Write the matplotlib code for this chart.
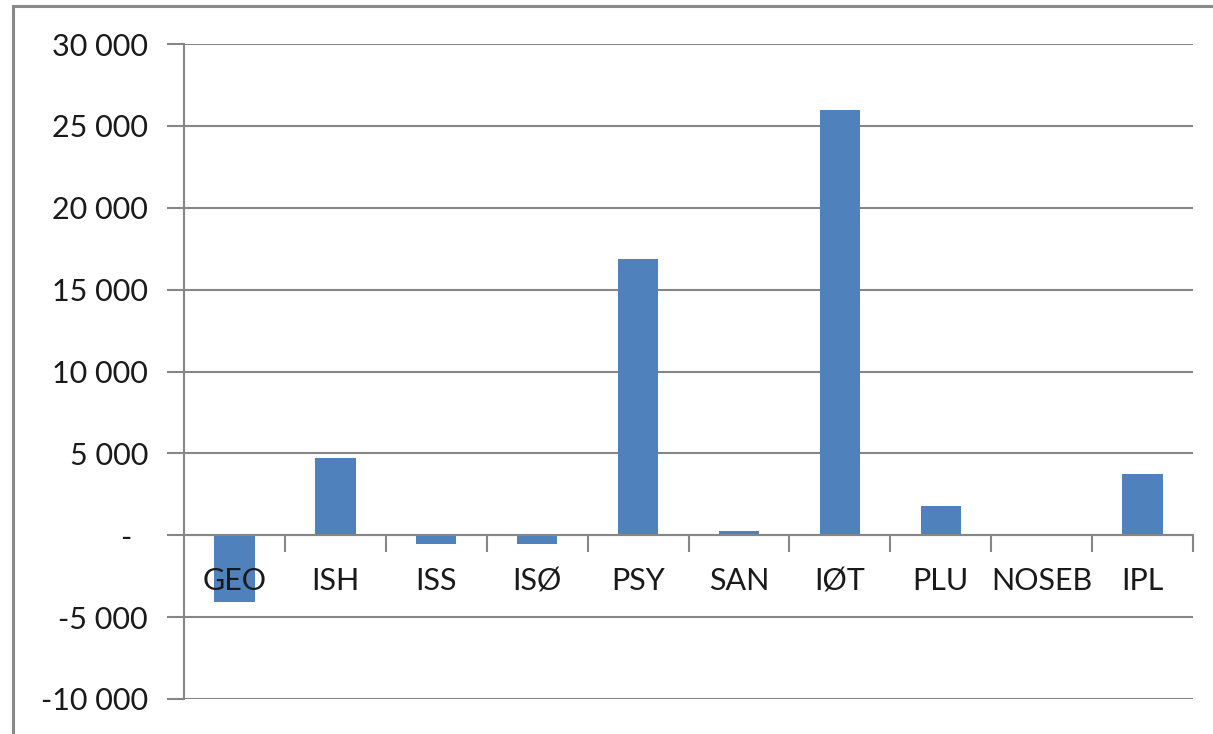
import matplotlib
matplotlib.use("Agg")
import matplotlib.pyplot as plt
from matplotlib.patches import Rectangle
from matplotlib.ticker import FuncFormatter, FixedLocator

categories = ["GEO", "ISH", "ISS", "ISØ", "PSY", "SAN", "IØT", "PLU", "NOSEB", "IPL"]
values = [-4100, 4700, -550, -550, 16900, 250, 25950, 1800, 0, 3750]
y_ticks = [-10000, -5000, 0, 5000, 10000, 15000, 20000, 25000, 30000]

plt.rcParams['font.family'] = ['Lato', 'DejaVu Sans']
grey = '#868686'
W, H = 1213, 734

fig = plt.figure(figsize=(W / 100, H / 100), dpi=100)
fig.patches.append(Rectangle((12.5 / W, -0.1), 1.2, 1.1 - 6.5 / H, transform=fig.transFigure,
                             fill=False, edgecolor='#8a8a8a', linewidth=2.2))

ax = fig.add_axes([184 / W, 1 - 699 / H, (1193 - 184) / W, (699 - 44) / H])
x = list(range(len(categories)))
ax.bar(x, values, width=0.4, color='#4F81BD', zorder=2)

ax.set_xlim(-0.5, len(categories) - 0.5)
ax.set_ylim(-10000, 30000)
ax.set_yticks(y_ticks)


def fmt(v, pos):
    if v == 0:
        return '-  '
    s = f"{abs(int(v)):,}".replace(',', ' ')
    return ('-' if v < 0 else '') + s


ax.yaxis.set_major_formatter(FuncFormatter(fmt))
ax.tick_params(axis='y', length=12, width=1.5, color=grey, pad=14, labelsize=22, labelcolor='#1a1a1a')
ax.grid(axis='y', color=grey, linewidth=1.5)
ax.set_axisbelow(True)

for s in ['top', 'right']:
    ax.spines[s].set_visible(False)
ax.spines['left'].set_color(grey)
ax.spines['left'].set_linewidth(1.5)
ax.spines['bottom'].set_position(('data', 0))
ax.spines['bottom'].set_color(grey)
ax.spines['bottom'].set_linewidth(1.5)

ax.set_xticks([])
ax.xaxis.set_minor_locator(FixedLocator([i + 0.5 for i in x]))
ax.tick_params(axis='x', which='minor', length=12, width=1.5, color=grey, direction='out')

for i, name in zip(x, categories):
    ax.annotate(name, xy=(i, 0), xytext=(0, -46), textcoords='offset pixels',
                ha='center', va='center', fontsize=22, color='#1a1a1a', zorder=5)

fig.savefig('out.png', dpi=100)
